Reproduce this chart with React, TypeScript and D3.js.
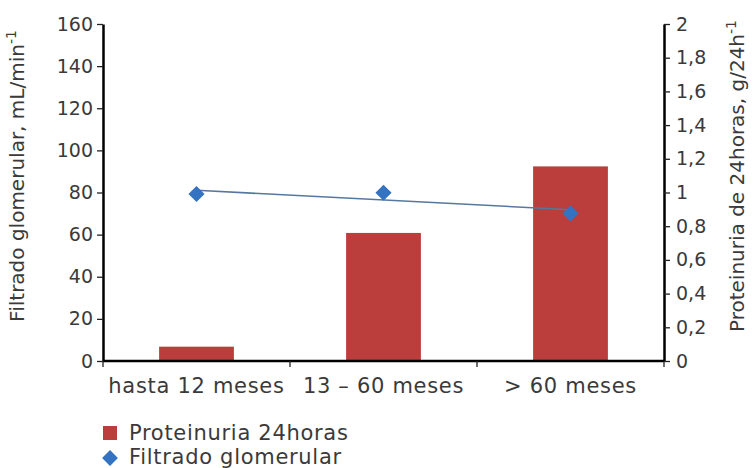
import { useEffect, useRef } from "react";
import * as d3 from "d3";

// data
const categories = ["hasta 12 meses", "13 – 60 meses", "> 60 meses"];
const proteinuria = [0.085, 0.76, 1.155]; // g/24h, right axis
const filtrado = [79.3, 79.9, 70.1]; // mL/min, left axis
const leftTicks = [0, 20, 40, 60, 80, 100, 120, 140, 160];
const rightTicks = [0, 0.2, 0.4, 0.6, 0.8, 1, 1.2, 1.4, 1.6, 1.8, 2];
const legendLabels = ["Proteinuria 24horas", "Filtrado glomerular"];

const BAR_COLOR = "#bb3d3c";
const DOT_COLOR = "#3472c2";
const LINE_COLOR = "#56789f";
const TEXT_COLOR = "#3a3a3a";
const FONT = "'DejaVu Sans', Verdana, sans-serif";

const App = () => {
  const ref = useRef<SVGSVGElement>(null);

  useEffect(() => {
    draw();
  }, []);

  const draw = () => {
    const width = 753;
    const height = 468;
    const margin = { top: 24, right: 89, bottom: 107, left: 103 };

    const svg = d3.select(ref.current);
    svg.selectAll("*").remove();
    svg.attr("width", width).attr("height", height).style("font-family", FONT);

    const x0 = margin.left;
    const x1 = width - margin.right;
    const yBottom = height - margin.bottom;

    // category scale (no padding) and bar scale (centred, 40% wide)
    const xCat = d3.scaleBand().domain(categories).range([x0, x1]).padding(0);
    const xBar = d3
      .scaleBand()
      .domain(categories)
      .range([x0, x1])
      .paddingInner(0.6)
      .paddingOuter(0.3);

    const yLeft = d3.scaleLinear().domain([0, 160]).range([yBottom, margin.top]);
    const yRight = d3.scaleLinear().domain([0, 2]).range([yBottom, margin.top]);

    // bars
    svg
      .append("g")
      .selectAll("rect")
      .data(proteinuria)
      .join("rect")
      .attr("x", (d, i) => xBar(categories[i])!)
      .attr("width", xBar.bandwidth())
      .attr("y", (d) => yRight(d))
      .attr("height", (d) => yBottom - yRight(d))
      .attr("fill", BAR_COLOR);

    // linear trend of filtrado
    const xs = filtrado.map((_, i) => i + 1);
    const mx = d3.mean(xs)!;
    const my = d3.mean(filtrado)!;
    const slope =
      d3.sum(xs, (xv, i) => (xv - mx) * (filtrado[i] - my)) /
      d3.sum(xs, (xv) => (xv - mx) * (xv - mx));
    const icpt = my - slope * mx;
    const cx = (i: number) => xCat(categories[i])! + xCat.bandwidth() / 2;
    const last = filtrado.length - 1;
    svg
      .append("line")
      .attr("x1", cx(0))
      .attr("y1", yLeft(icpt + slope * 1))
      .attr("x2", cx(last))
      .attr("y2", yLeft(icpt + slope * (last + 1)))
      .attr("stroke", LINE_COLOR)
      .attr("stroke-width", 1.6);

    // diamonds
    const diamond = d3.symbol().type(d3.symbolSquare).size(130);
    svg
      .append("g")
      .selectAll("path")
      .data(filtrado)
      .join("path")
      .attr("d", diamond)
      .attr("transform", (d, i) => `translate(${cx(i)},${yLeft(d)}) rotate(45)`)
      .attr("fill", DOT_COLOR);

    // left axis
    const leftAxis = svg
      .append("g")
      .attr("transform", `translate(${x0},0)`)
      .call(
        d3
          .axisLeft(yLeft)
          .tickValues(leftTicks)
          .tickSize(6)
          .tickSizeOuter(0)
          .tickPadding(4)
      );
    leftAxis.select(".domain").attr("stroke", "#000").attr("stroke-width", 2.5);
    leftAxis.selectAll(".tick line").attr("stroke", "#222").attr("stroke-width", 1.3);
    leftAxis
      .selectAll(".tick text")
      .attr("fill", TEXT_COLOR)
      .style("font-size", "19px")
      .style("font-family", FONT);

    // right axis
    const fmt = (v: number) => d3.format("~g")(v).replace(".", ",");
    const rightAxis = svg
      .append("g")
      .attr("transform", `translate(${x1},0)`)
      .call(
        d3
          .axisRight(yRight)
          .tickValues(rightTicks)
          .tickFormat((v) => fmt(+v))
          .tickSize(6)
          .tickSizeOuter(0)
          .tickPadding(6)
      );
    rightAxis.select(".domain").attr("stroke", "#000").attr("stroke-width", 2.5);
    rightAxis.selectAll(".tick line").attr("stroke", "#222").attr("stroke-width", 1.3);
    rightAxis
      .selectAll(".tick text")
      .attr("fill", TEXT_COLOR)
      .style("font-size", "19px")
      .style("font-family", FONT);

    // x axis
    svg
      .append("line")
      .attr("x1", x0)
      .attr("x2", x1)
      .attr("y1", yBottom)
      .attr("y2", yBottom)
      .attr("stroke", "#000")
      .attr("stroke-width", 2.5);
    const bounds = categories.map((c) => xCat(c)!).concat([x1]);
    svg
      .append("g")
      .selectAll("line")
      .data(bounds)
      .join("line")
      .attr("x1", (d) => d)
      .attr("x2", (d) => d)
      .attr("y1", yBottom)
      .attr("y2", yBottom + 6)
      .attr("stroke", "#222")
      .attr("stroke-width", 1.3);
    svg
      .append("g")
      .selectAll("text")
      .data(categories)
      .join("text")
      .attr("x", (d) => xCat(d)! + xCat.bandwidth() / 2)
      .attr("y", yBottom + 32)
      .attr("text-anchor", "middle")
      .attr("fill", TEXT_COLOR)
      .style("font-size", "21px")
      .style("letter-spacing", "0.7px")
      .text((d) => d);

    // axis titles
    const leftTitle = svg
      .append("text")
      .attr("transform", `translate(24,176) rotate(-90)`)
      .attr("text-anchor", "middle")
      .attr("fill", TEXT_COLOR)
      .style("font-size", "20px");
    leftTitle.append("tspan").text("Filtrado glomerular, mL/min");
    leftTitle.append("tspan").attr("dy", -8).style("font-size", "14px").text("-1");

    const rightTitle = svg
      .append("text")
      .attr("transform", `translate(744,176) rotate(-90)`)
      .attr("text-anchor", "middle")
      .attr("fill", TEXT_COLOR)
      .style("font-size", "20px");
    rightTitle.append("tspan").text("Proteinuria de 24horas, g/24h");
    rightTitle.append("tspan").attr("dy", -8).style("font-size", "14px").text("-1");

    // legend
    const legend = svg.append("g").attr("transform", `translate(${x0},0)`);
    legend
      .append("rect")
      .attr("x", 0)
      .attr("y", 426)
      .attr("width", 14)
      .attr("height", 14)
      .attr("fill", BAR_COLOR);
    legend
      .append("path")
      .attr("d", d3.symbol().type(d3.symbolSquare).size(125)())
      .attr("transform", `translate(7,458) rotate(45)`)
      .attr("fill", DOT_COLOR);
    legend
      .selectAll("text")
      .data(legendLabels)
      .join("text")
      .attr("x", 26)
      .attr("y", (d, i) => 440 + i * 24)
      .attr("fill", TEXT_COLOR)
      .style("font-size", "21px")
      .style("letter-spacing", "0.7px")
      .text((d) => d);
  };

  return (
    <div style={{ position: "absolute", left: 0, top: 0 }}>
      <svg ref={ref}></svg>
    </div>
  );
};

export default App;
